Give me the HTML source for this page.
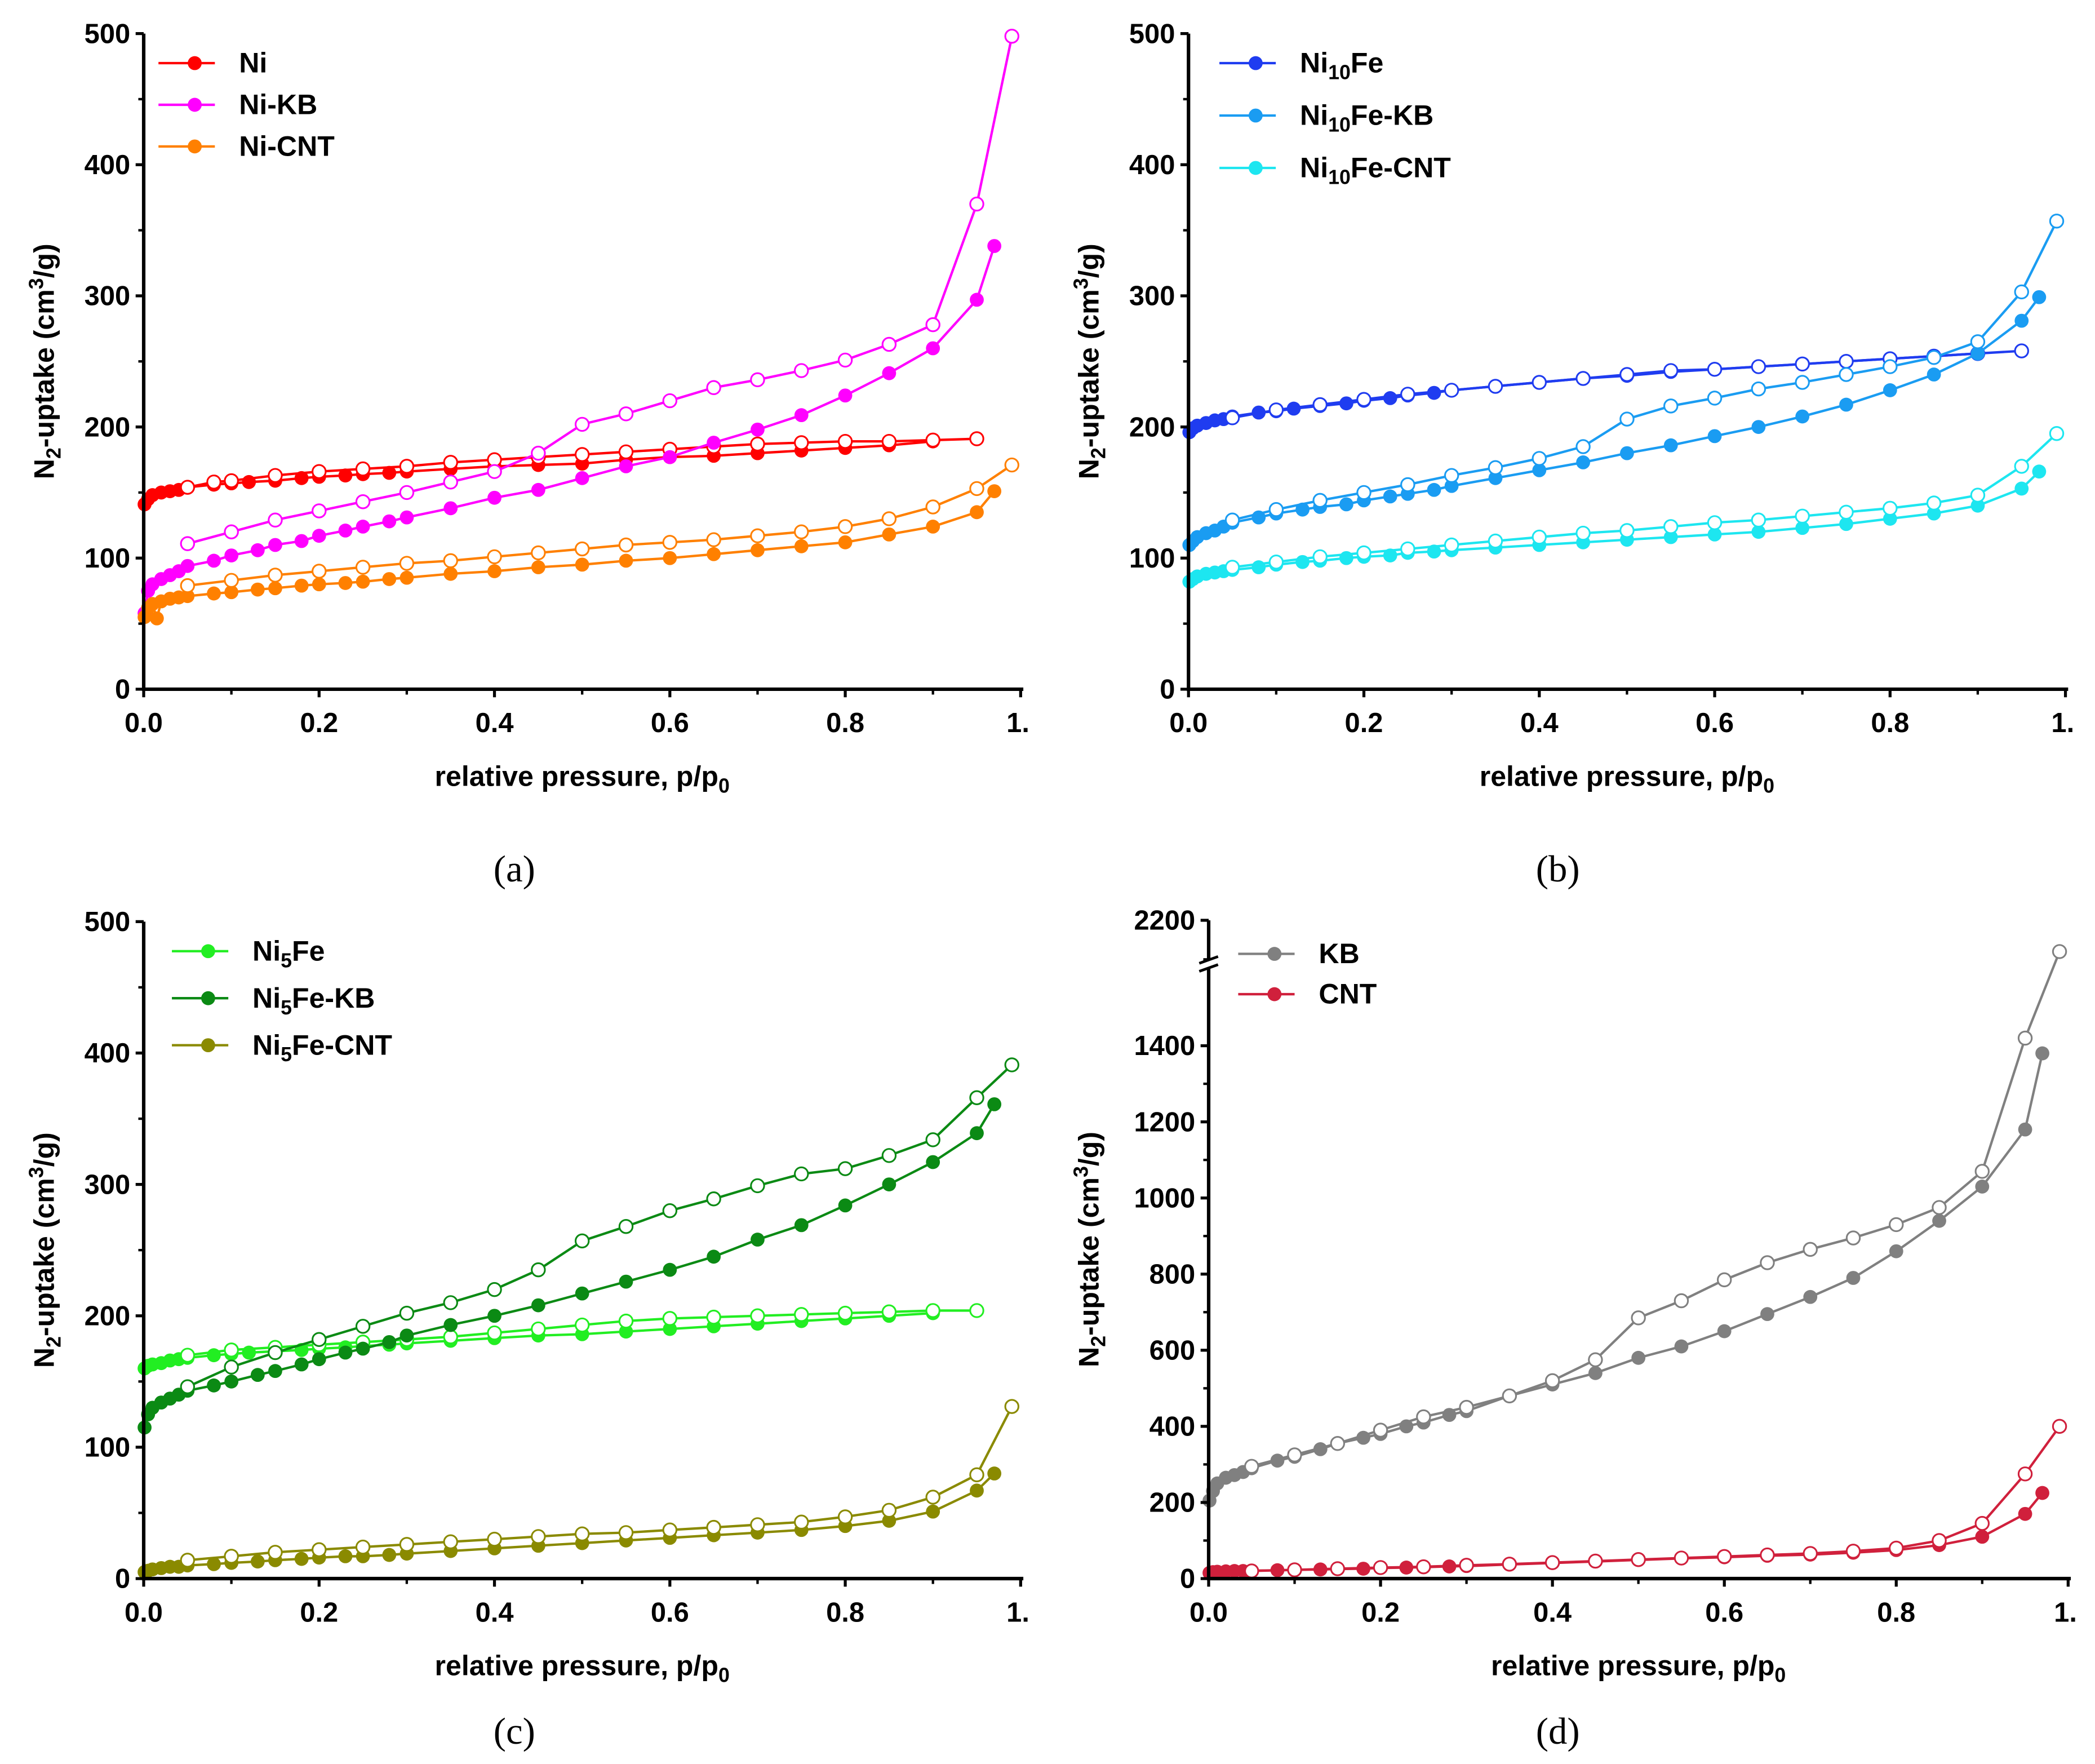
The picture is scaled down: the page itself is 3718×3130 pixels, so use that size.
<!DOCTYPE html>
<html><head><meta charset="utf-8"><style>
html,body{margin:0;padding:0;background:#fff}
svg{display:block}
text{font-family:"Liberation Sans",Arial,sans-serif;font-weight:bold;fill:#000}
.cap{font-family:"Liberation Serif",serif;font-weight:normal;font-size:28px}
</style></head><body>
<svg id="fig" width="3718" height="3130" viewBox="0 0 1560 1313" preserveAspectRatio="none" xmlns="http://www.w3.org/2000/svg"></svg>
<script>
// ---- data ----
const pAds29 = [0.001,0.005,0.01,0.02,0.03,0.04,0.05,0.08,0.1,0.12,0.15,0.18,0.2,0.23,0.25,0.28,0.3,0.35,0.4,0.45,0.5,0.55,0.6,0.65,0.7,0.75,0.8,0.85,0.9];
const pDes19 = [0.95,0.9,0.85,0.8,0.75,0.7,0.65,0.6,0.55,0.5,0.45,0.4,0.35,0.3,0.25,0.2,0.15,0.1,0.05];
const pDes20 = [0.99,0.95,0.9,0.85,0.8,0.75,0.7,0.65,0.6,0.55,0.5,0.45,0.4,0.35,0.3,0.25,0.2,0.15,0.1,0.05];
const pAds31 = [0.001,0.005,0.01,0.02,0.03,0.04,0.05,0.08,0.1,0.13,0.15,0.18,0.2,0.23,0.25,0.28,0.3,0.35,0.4,0.45,0.5,0.55,0.6,0.65,0.7,0.75,0.8,0.85,0.9,0.95,0.97];
const pAds32 = [0.001,0.005,0.01,0.015,0.02,0.03,0.04,0.05,0.08,0.1,0.13,0.15,0.18,0.2,0.23,0.25,0.28,0.3,0.35,0.4,0.45,0.5,0.55,0.6,0.65,0.7,0.75,0.8,0.85,0.9,0.95,0.97];
const pDesNi = [0.95,0.9,0.85,0.8,0.75,0.7,0.65,0.6,0.55,0.5,0.45,0.4,0.35,0.3,0.25,0.2,0.15,0.1,0.08,0.05];

const niAds = [141,145,148,150,151,152,154,156,157,158,159,161,162,163,164,165,166,168,170,171,172,175,177,178,180,182,184,186,189];
const niDes = [191,190,189,189,188,187,185,183,181,179,177,175,173,170,168,166,163,159,158,154];
const niKbAds = [58,75,80,84,87,90,94,98,102,106,110,113,117,121,124,128,131,138,146,152,161,170,177,188,198,209,224,241,260,297,338];
const niKbDes = [498,370,278,263,251,243,236,230,220,210,202,180,166,158,150,143,136,129,120,111];
const niCntAds = [55,62,65,54,67,69,70,71,73,74,76,77,79,80,81,82,84,85,88,90,93,95,98,100,103,106,109,112,118,124,135,151];
const niCntDes = [171,153,139,130,124,120,117,114,112,110,107,104,101,98,96,93,90,87,83,79];

const ni10Ads = [196,199,201,203,205,206,208,211,212,214,216,218,220,222,224,226,228,231,234,237,239,242,244,246,248,250,252,254,256];
const ni10Des = [258,256,254,252,250,248,246,244,243,240,237,234,231,228,225,221,217,213,207];
const ni10KbAds = [110,113,116,119,121,124,127,131,134,137,139,141,144,147,149,152,155,161,167,173,180,186,193,200,208,217,228,240,256,281,299];
const ni10KbDes = [357,303,265,253,246,240,234,229,222,216,206,185,176,169,163,156,150,144,137,129];
const ni10CntAds = [82,84,86,88,89,90,91,93,95,97,98,100,101,102,104,105,106,108,110,112,114,116,118,120,123,126,130,134,140,153,166];
const ni10CntDes = [195,170,148,142,138,135,132,129,127,124,121,119,116,113,110,107,104,101,97,93];

const ni5Ads = [160,162,163,164,166,167,168,170,171,172,173,174,175,176,177,178,179,181,183,185,186,188,190,192,194,196,198,200,202];
const ni5Des = [204,204,203,202,201,200,199,198,196,193,190,187,184,182,180,178,176,174,170];
const ni5KbAds = [115,125,130,134,137,140,143,147,150,155,158,163,167,172,175,180,185,193,200,208,217,226,235,245,258,269,284,300,317,339,361];
const ni5KbDes = [391,366,334,322,312,308,299,289,280,268,257,235,220,210,202,192,182,172,161,146];
const ni5CntAds = [5,6,7,8,9,9,10,11,12,13,14,15,16,17,17,18,19,21,23,25,27,29,31,33,35,37,40,44,51,67,80];
const ni5CntDes = [131,79,62,52,47,43,41,39,37,35,34,32,30,28,26,24,22,20,17,14];

const kbAds = [205,230,250,265,272,280,290,310,320,340,355,370,380,400,410,430,440,480,510,540,580,610,650,695,740,790,860,940,1030,1180,1380];
const kbDes = [2120,1420,1070,975,930,895,865,830,785,730,685,575,520,480,450,425,390,355,325,295];
const cntAds = [15,17,18,19,20,20,21,22,23,24,25,26,28,29,30,32,33,37,41,45,49,53,56,60,63,68,75,88,110,170,225];
const cntDes = [400,275,145,100,80,72,66,62,58,54,50,46,42,38,35,31,29,26,23,20];

const xTicks = [0,0.2,0.4,0.6,0.8,1.0];
const xTickLabels = ["0.0","0.2","0.4","0.6","0.8","1."];
const yTicks500 = [0,100,200,300,400,500];
const yTicksD = [0,200,400,600,800,1000,1200,1400];

const NS="http://www.w3.org/2000/svg";
const svg=document.getElementById('fig');
function mk(tag,attrs,parent){const e=document.createElementNS(NS,tag);for(const k in attrs)e.setAttribute(k,attrs[k]);(parent||svg).appendChild(e);return e;}

function panel(cfg){
  const g=mk('g',{});
  
  
  const X=p=>cfg.x0+p*(cfg.x1-cfg.x0);
  const Y=cfg.Y;
  cfg.series.forEach(s=>{
    const sg=mk('g',{},g);
    
    
    [[s.pa,s.a,true],[s.pd,s.d,false]].forEach(([ps,vs,filled])=>{
      const pts=ps.map((p,i)=>X(p).toFixed(1)+','+Y(vs[i]).toFixed(1)).join(' ');
      const l=mk('polyline',{points:pts,fill:'none',stroke:s.c,'stroke-width':1.8},sg);
      
      
      ps.forEach((p,i)=>{
        const c=mk('circle',{cx:X(p),cy:Y(vs[i]),r:filled?5.2:4.9,fill:filled?s.c:'#fff',stroke:s.c,'stroke-width':filled?0:1.3},sg);
        
        
      });
    });
  });
  const ax=mk('path',{d:`M${cfg.x0},${cfg.yTop} V${cfg.yBot} H${cfg.x1+2}`,fill:'none',stroke:'#000','stroke-width':2.6},g);
  
  
  if(cfg.brk){
    const b=mk('rect',{x:cfg.x0-6,y:cfg.brk-4,width:12,height:7,fill:'#fff'},g);
    
    
    mk('path',{d:`M${cfg.x0-7},${cfg.brk-1} L${cfg.x0+7},${cfg.brk-6} M${cfg.x0-7},${cfg.brk+5} L${cfg.x0+7},${cfg.brk}`,stroke:'#000','stroke-width':2},g);
  }
  xTicks.forEach((t,i)=>{
    mk('line',{x1:X(t),x2:X(t),y1:cfg.yBot,y2:cfg.yBot+6,stroke:'#000','stroke-width':2.2},g);
    const tx=mk('text',{x:X(t)+(i==5?-2:0),y:cfg.yBot+32,'font-size':20.5,'text-anchor':'middle'},g);
    tx.textContent=xTickLabels[i];
    
    
    if(i<5) mk('line',{x1:X(t+0.1),x2:X(t+0.1),y1:cfg.yBot,y2:cfg.yBot+4,stroke:'#000','stroke-width':1.8},g);
  });
  cfg.yTicks.forEach((t,i)=>{
    mk('line',{x1:cfg.x0-6,x2:cfg.x0,y1:Y(t),y2:Y(t),stroke:'#000','stroke-width':2.2},g);
    const tx=mk('text',{x:cfg.x0-10,y:Y(t)+7,'font-size':20.5,'text-anchor':'end'},g);
    tx.textContent=t;
    
    
    if(i<cfg.yTicks.length-1){const m=t+cfg.yStep/2;mk('line',{x1:cfg.x0-4,x2:cfg.x0,y1:Y(m),y2:Y(m),stroke:'#000','stroke-width':1.8},g);}
  });
  (cfg.extraY||[]).forEach(t=>{
    mk('line',{x1:cfg.x0-6,x2:cfg.x0,y1:Y(t),y2:Y(t),stroke:'#000','stroke-width':2.2},g);
    const tx=mk('text',{x:cfg.x0-10,y:Y(t)+7,'font-size':20.5,'text-anchor':'end'},g);
    tx.textContent=t;
    
    
  });
  (cfg.minorExtra||[]).forEach(t=>mk('line',{x1:cfg.x0-4,x2:cfg.x0,y1:Y(t),y2:Y(t),stroke:'#000','stroke-width':1.8},g));
  const xt=mk('text',{x:(cfg.x0+cfg.x1)/2,y:cfg.yBot+72,'font-size':21,'text-anchor':'middle'},g);
  xt.innerHTML='relative pressure, p/p<tspan font-size="15" dy="5">0</tspan>';
  
  
  const yc=(cfg.yTop+cfg.yBot)/2;
  const yt=mk('text',{x:0,y:0,'font-size':21,'text-anchor':'middle',transform:`translate(${cfg.ytx},${yc}) rotate(-90)`},g);
  yt.innerHTML='N<tspan font-size="15" dy="5">2</tspan><tspan dy="-5">-uptake (cm</tspan><tspan font-size="15" dy="-8">3</tspan><tspan dy="8">/g)</tspan>';
  
  
  const lg=mk('g',{},g);
  
  
  cfg.series.forEach((s,i)=>{
    const yy=cfg.leg.y[i];
    mk('line',{x1:cfg.leg.x,x2:cfg.leg.x+42,y1:yy,y2:yy,stroke:s.c,'stroke-width':1.8},lg);
    mk('circle',{cx:cfg.leg.x+27,cy:yy,r:5.2,fill:s.c},lg);
    const t=mk('text',{x:cfg.leg.x+60,y:yy+7,'font-size':21},lg);
    t.innerHTML=s.label;
    
    
  });
  const cp=mk('text',{x:cfg.cap[0],y:cfg.cap[1],'text-anchor':'middle',class:'cap'},g);
  cp.textContent=cfg.capText;
  
  
}
const sub=s=>`<tspan font-size="15" dy="5">${s}</tspan><tspan dy="-5">`;
const lin=(y0,yT,vmax)=>v=>y0-v*(y0-yT)/vmax;

panel({name:'panel-a',x0:107,x1:760,yTop:25,yBot:513,Y:lin(513,25,500),yTicks:yTicks500,yStep:100,ytx:40,
  leg:{x:118,y:[47,78,109]},cap:[383,656],capText:'(a)',
  series:[{id:'ni',label:'Ni',c:'#ff0000',pa:pAds29,a:niAds,pd:pDesNi,d:niDes},
          {id:'ni-kb',label:'Ni-KB',c:'#ff00ff',pa:pAds31,a:niKbAds,pd:pDes20,d:niKbDes},
          {id:'ni-cnt',label:'Ni-CNT',c:'#ff8000',pa:pAds32,a:niCntAds,pd:pDes20,d:niCntDes}]});
panel({name:'panel-b',x0:885,x1:1538,yTop:25,yBot:513,Y:lin(513,25,500),yTicks:yTicks500,yStep:100,ytx:818,
  leg:{x:908,y:[47,86,125]},cap:[1160,656],capText:'(b)',
  series:[{id:'ni10fe',label:'Ni'+sub('10')+'Fe</tspan>',c:'#1f3cf0',pa:pAds29,a:ni10Ads,pd:pDes19,d:ni10Des},
          {id:'ni10fe-kb',label:'Ni'+sub('10')+'Fe-KB</tspan>',c:'#1a9cf2',pa:pAds31,a:ni10KbAds,pd:pDes20,d:ni10KbDes},
          {id:'ni10fe-cnt',label:'Ni'+sub('10')+'Fe-CNT</tspan>',c:'#1de6f0',pa:pAds31,a:ni10CntAds,pd:pDes20,d:ni10CntDes}]});
panel({name:'panel-c',x0:107,x1:760,yTop:686,yBot:1175,Y:lin(1175,686,500),yTicks:yTicks500,yStep:100,ytx:40,
  leg:{x:128,y:[708,743,778]},cap:[383,1298],capText:'(c)',
  series:[{id:'ni5fe',label:'Ni'+sub('5')+'Fe</tspan>',c:'#22ee22',pa:pAds29,a:ni5Ads,pd:pDes19,d:ni5Des},
          {id:'ni5fe-kb',label:'Ni'+sub('5')+'Fe-KB</tspan>',c:'#0b8a14',pa:pAds31,a:ni5KbAds,pd:pDes20,d:ni5KbDes},
          {id:'ni5fe-cnt',label:'Ni'+sub('5')+'Fe-CNT</tspan>',c:'#8a8a00',pa:pAds31,a:ni5CntAds,pd:pDes20,d:ni5CntDes}]});
const yD=v=>{ if(v<=1610) return 1175-v*0.2833; if(v>=2090) return 717-(v-2090)*(32/110); return 719-(v-1610)*(2/480); };
panel({name:'panel-d',x0:900,x1:1540,yTop:685,yBot:1175,Y:yD,yTicks:yTicksD,yStep:200,ytx:818,extraY:[2200],minorExtra:[2100],brk:718,
  leg:{x:922,y:[710,740]},cap:[1160,1298],capText:'(d)',
  series:[{id:'kb',label:'KB',c:'#808080',pa:pAds31,a:kbAds,pd:pDes20,d:kbDes},
          {id:'cnt',label:'CNT',c:'#d0203c',pa:pAds31,a:cntAds,pd:pDes20,d:cntDes}]});
</script>
</body></html>
